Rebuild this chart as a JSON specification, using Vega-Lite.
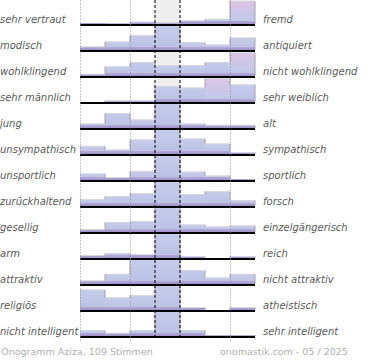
{
  "$schema": "https://vega.github.io/schema/vega-lite/v6.json",
  "width": 175,
  "height": 340,
  "autosize": {"type": "none"},
  "padding": {"left": 80, "top": 0, "right": 115, "bottom": 20},
  "config": {"view": {"stroke": null}, "font": "DejaVu Sans"},
  "datasets": {
    "rows": [
      {"i": 0, "left": "sehr vertraut", "right": "fremd"},
      {"i": 1, "left": "modisch", "right": "antiquiert"},
      {"i": 2, "left": "wohlklingend", "right": "nicht wohlklingend"},
      {"i": 3, "left": "sehr männlich", "right": "sehr weiblich"},
      {"i": 4, "left": "\u00a0jung", "right": "alt"},
      {"i": 5, "left": "unsympathisch", "right": "sympathisch"},
      {"i": 6, "left": "unsportlich", "right": "sportlich"},
      {"i": 7, "left": "zurückhaltend", "right": "forsch"},
      {"i": 8, "left": "gesellig", "right": "einzelgängerisch"},
      {"i": 9, "left": "arm", "right": "reich"},
      {"i": 10, "left": "attraktiv", "right": "nicht attraktiv"},
      {"i": 11, "left": "religiös", "right": "atheistisch"},
      {"i": 12, "left": "nicht intelligent", "right": "sehr intelligent"}
    ],
    "bars": [
      {"i": 0, "c": 1, "v": 1}, {"i": 0, "c": 2, "v": 0.6}, {"i": 0, "c": 3, "v": 2}, {"i": 0, "c": 4, "v": 1.2}, {"i": 0, "c": 5, "v": 3.2}, {"i": 0, "c": 6, "v": 4.8}, {"i": 0, "c": 7, "v": 23},
      {"i": 1, "c": 1, "v": 3.2}, {"i": 1, "c": 2, "v": 8.2}, {"i": 1, "c": 3, "v": 14.5}, {"i": 1, "c": 4, "v": 46}, {"i": 1, "c": 5, "v": 7.5}, {"i": 1, "c": 6, "v": 5.2}, {"i": 1, "c": 7, "v": 12.2},
      {"i": 2, "c": 1, "v": 1.8}, {"i": 2, "c": 2, "v": 9.2}, {"i": 2, "c": 3, "v": 13.5}, {"i": 2, "c": 4, "v": 10.5}, {"i": 2, "c": 5, "v": 10.5}, {"i": 2, "c": 6, "v": 13.5}, {"i": 2, "c": 7, "v": 23.2},
      {"i": 3, "c": 1, "v": 0}, {"i": 3, "c": 2, "v": 1.2}, {"i": 3, "c": 3, "v": 1.2}, {"i": 3, "c": 4, "v": 15.5}, {"i": 3, "c": 5, "v": 14.2}, {"i": 3, "c": 6, "v": 23.3}, {"i": 3, "c": 7, "v": 17.2},
      {"i": 4, "c": 1, "v": 4.2}, {"i": 4, "c": 2, "v": 14.5}, {"i": 4, "c": 3, "v": 8.2}, {"i": 4, "c": 4, "v": 60}, {"i": 4, "c": 5, "v": 4.2}, {"i": 4, "c": 6, "v": 2.8}, {"i": 4, "c": 7, "v": 2.8},
      {"i": 5, "c": 1, "v": 7.8}, {"i": 5, "c": 2, "v": 4.2}, {"i": 5, "c": 3, "v": 14.2}, {"i": 5, "c": 4, "v": 44}, {"i": 5, "c": 5, "v": 15.2}, {"i": 5, "c": 6, "v": 10.2}, {"i": 5, "c": 7, "v": 1.5},
      {"i": 6, "c": 1, "v": 6.2}, {"i": 6, "c": 2, "v": 2.5}, {"i": 6, "c": 3, "v": 8.5}, {"i": 6, "c": 4, "v": 67}, {"i": 6, "c": 5, "v": 8.2}, {"i": 6, "c": 6, "v": 4.2}, {"i": 6, "c": 7, "v": 0.8},
      {"i": 7, "c": 1, "v": 6.5}, {"i": 7, "c": 2, "v": 9.5}, {"i": 7, "c": 3, "v": 12.5}, {"i": 7, "c": 4, "v": 37}, {"i": 7, "c": 5, "v": 11.5}, {"i": 7, "c": 6, "v": 14.5}, {"i": 7, "c": 7, "v": 5.5},
      {"i": 8, "c": 1, "v": 2.5}, {"i": 8, "c": 2, "v": 9.5}, {"i": 8, "c": 3, "v": 10.5}, {"i": 8, "c": 4, "v": 56}, {"i": 8, "c": 5, "v": 7.2}, {"i": 8, "c": 6, "v": 5.2}, {"i": 8, "c": 7, "v": 6.2},
      {"i": 9, "c": 1, "v": 2.5}, {"i": 9, "c": 2, "v": 4.5}, {"i": 9, "c": 3, "v": 3.5}, {"i": 9, "c": 4, "v": 84}, {"i": 9, "c": 5, "v": 1.5}, {"i": 9, "c": 6, "v": 0}, {"i": 9, "c": 7, "v": 1.5},
      {"i": 10, "c": 1, "v": 3.2}, {"i": 10, "c": 2, "v": 9.8}, {"i": 10, "c": 3, "v": 26}, {"i": 10, "c": 4, "v": 29}, {"i": 10, "c": 5, "v": 13.5}, {"i": 10, "c": 6, "v": 6.2}, {"i": 10, "c": 7, "v": 9.8},
      {"i": 11, "c": 1, "v": 20.2}, {"i": 11, "c": 2, "v": 12.2}, {"i": 11, "c": 3, "v": 14.5}, {"i": 11, "c": 4, "v": 46}, {"i": 11, "c": 5, "v": 2.5}, {"i": 11, "c": 6, "v": 0}, {"i": 11, "c": 7, "v": 2.5},
      {"i": 12, "c": 1, "v": 5.5}, {"i": 12, "c": 2, "v": 2.8}, {"i": 12, "c": 3, "v": 5.5}, {"i": 12, "c": 4, "v": 77}, {"i": 12, "c": 5, "v": 5.5}, {"i": 12, "c": 6, "v": 0.8}, {"i": 12, "c": 7, "v": 0.8}
    ]
  },
  "layer": [
    {
      "data": {"values": [{"k": "mitte"}]},
      "mark": {"type": "rect", "fill": "#eeeeee"},
      "encoding": {
        "x": {"datum": 3, "type": "quantitative", "scale": {"domain": [0, 7], "nice": false, "zero": false},
          "axis": {"values": [0, 1, 2, 5, 6, 7], "grid": true, "labels": false, "ticks": false, "domain": false, "title": null, "zindex": 1, "gridColor": "#8c8c8c", "gridDash": [1, 2], "gridWidth": 1, "gridOpacity": 1}},
        "x2": {"datum": 4},
        "y": {"datum": 0, "type": "quantitative", "scale": {"domain": [0, 340], "reverse": true, "nice": false, "zero": false}, "axis": null},
        "y2": {"datum": 337}
      }
    },
    {
      "data": {"name": "bars"},
      "transform": [
        {"calculate": "25 + 26 * datum.i", "as": "base"},
        {"calculate": "min(datum.v, 24)", "as": "h"},
        {"calculate": "datum.base - 1 - datum.h", "as": "t"},
        {"calculate": "datum.base - 1", "as": "b"},
        {"calculate": "datum.base - 1 - min(datum.v, 3)", "as": "s"},
        {"calculate": "datum.c - 1", "as": "x0"},
        {"window": [{"op": "lead", "field": "t", "as": "tn"}], "groupby": ["i"], "sort": [{"field": "c", "order": "ascending"}]},
        {"calculate": "datum.tn == null ? datum.b : datum.tn", "as": "tn2"}
      ],
      "layer": [
        {
          "transform": [{"filter": "datum.h > 0 && !(datum.v >= 22 && datum.v < 24)"}],
          "mark": {"type": "rect", "fill": {"gradient": "linear", "x1": 0, "y1": 0, "x2": 0, "y2": 1, "stops": [{"offset": 0, "color": "#c6cbea"}, {"offset": 1, "color": "#bcc0e4"}]}},
          "encoding": {
            "x": {"field": "x0", "type": "quantitative"},
            "x2": {"field": "c"},
            "y": {"field": "t", "type": "quantitative"},
            "y2": {"field": "b"}
          }
        },
        {
          "transform": [{"filter": "datum.v >= 22 && datum.v < 24"}],
          "mark": {"type": "rect", "fill": {"gradient": "linear", "x1": 0, "y1": 0, "x2": 0, "y2": 1, "stops": [{"offset": 0, "color": "#dcc5e5"}, {"offset": 0.4, "color": "#cfc6e8"}, {"offset": 0.75, "color": "#c4c9ea"}, {"offset": 1, "color": "#bcc0e4"}]}},
          "encoding": {
            "x": {"field": "x0", "type": "quantitative"},
            "x2": {"field": "c"},
            "y": {"field": "t", "type": "quantitative"},
            "y2": {"field": "b"}
          }
        },
        {
          "transform": [{"filter": "datum.v > 0"}],
          "mark": {"type": "rect", "fill": {"gradient": "linear", "x1": 0, "y1": 0, "x2": 0, "y2": 1, "stops": [{"offset": 0, "color": "#b4aed9"}, {"offset": 1, "color": "#9d90c6"}]}},
          "encoding": {
            "x": {"field": "x0", "type": "quantitative"},
            "x2": {"field": "c"},
            "y": {"field": "s", "type": "quantitative"},
            "y2": {"field": "b"}
          }
        },
        {
          "transform": [{"filter": "datum.v > 1 && datum.v < 24"}],
          "mark": {"type": "rule", "stroke": "#d6d6de", "strokeWidth": 1},
          "encoding": {
            "x": {"field": "x0", "type": "quantitative"},
            "x2": {"field": "c"},
            "y": {"field": "t", "type": "quantitative"}
          }
        },
        {
          "transform": [{"filter": "abs(datum.t - datum.tn2) > 0.3"}],
          "mark": {"type": "rule", "stroke": "#a4a4ac", "strokeWidth": 1},
          "encoding": {
            "x": {"field": "c", "type": "quantitative"},
            "y": {"field": "t", "type": "quantitative"},
            "y2": {"field": "tn2"}
          }
        }
      ]
    },
    {
      "data": {"name": "rows"},
      "transform": [
        {"calculate": "25 + 26 * datum.i", "as": "base"},
        {"calculate": "datum.base - 5", "as": "ly"}
      ],
      "layer": [
        {
          "mark": {"type": "rule", "stroke": "#000000", "strokeWidth": 2},
          "encoding": {
            "x": {"datum": 0, "type": "quantitative"},
            "x2": {"datum": 7},
            "y": {"field": "base", "type": "quantitative"}
          }
        },
        {
          "mark": {"type": "text", "align": "left", "baseline": "middle", "fontSize": 10, "fontStyle": "italic", "color": "#5a5a5a"},
          "encoding": {
            "x": {"datum": -3.2, "type": "quantitative"},
            "y": {"field": "ly", "type": "quantitative"},
            "text": {"field": "left"}
          }
        },
        {
          "mark": {"type": "text", "align": "left", "baseline": "middle", "fontSize": 10, "fontStyle": "italic", "color": "#5a5a5a"},
          "encoding": {
            "x": {"datum": 7.32, "type": "quantitative"},
            "y": {"field": "ly", "type": "quantitative"},
            "text": {"field": "right"}
          }
        }
      ]
    },
    {
      "data": {"values": [{"k": "mitte"}]},
      "layer": [
        {
          "mark": {"type": "rule", "stroke": "#000000", "strokeWidth": 1, "strokeDash": [3, 2]},
          "encoding": {
            "x": {"datum": 3, "type": "quantitative"},
            "y": {"datum": 0, "type": "quantitative"},
            "y2": {"datum": 338}
          }
        },
        {
          "mark": {"type": "rule", "stroke": "#000000", "strokeWidth": 1, "strokeDash": [3, 2]},
          "encoding": {
            "x": {"datum": 4, "type": "quantitative"},
            "y": {"datum": 0, "type": "quantitative"},
            "y2": {"datum": 338}
          }
        }
      ]
    },
    {
      "data": {"values": [{"label": "Onogramm Aziza, 109 Stimmen"}]},
      "mark": {"type": "text", "align": "left", "baseline": "middle", "fontSize": 9.5, "color": "#b0b0b0"},
      "encoding": {
        "x": {"datum": -3.15, "type": "quantitative"},
        "y": {"datum": 352, "type": "quantitative"},
        "text": {"field": "label"}
      }
    },
    {
      "data": {"values": [{"label": "onomastik.com - 05 / 2025"}]},
      "mark": {"type": "text", "align": "left", "baseline": "middle", "fontSize": 9.5, "color": "#b0b0b0"},
      "encoding": {
        "x": {"datum": 5.6, "type": "quantitative"},
        "y": {"datum": 352, "type": "quantitative"},
        "text": {"field": "label"}
      }
    }
  ]
}
